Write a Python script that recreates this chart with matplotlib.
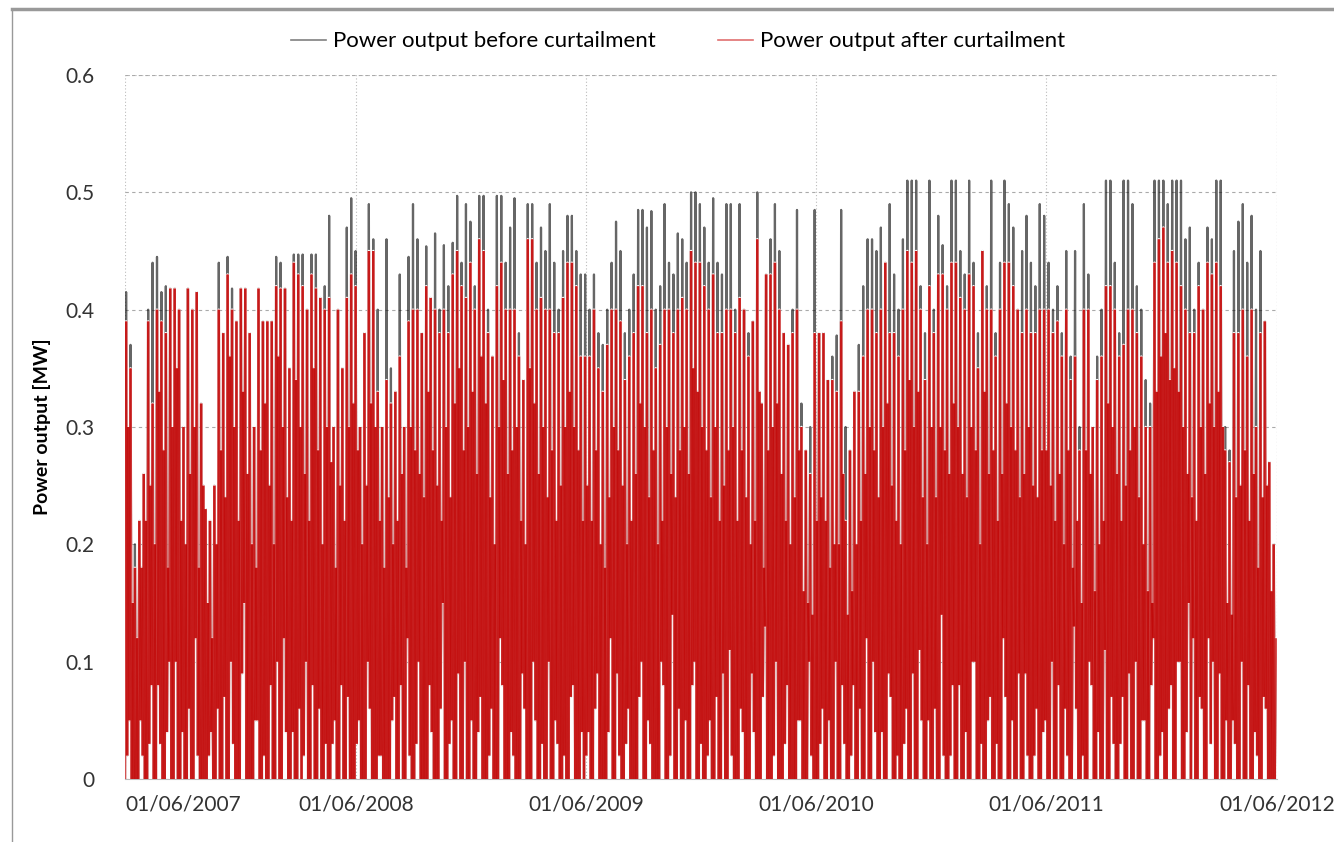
import numpy as np
import pandas as pd
import matplotlib
matplotlib.use('Agg')
import matplotlib.pyplot as plt
import matplotlib.dates as mdates
from matplotlib.lines import Line2D
from matplotlib.collections import LineCollection

# weekly highs, 01/06/2007 .. 01/06/2012
before_peak = [
    .415, .37, .20, .22, .26, .40, .44, .445, .415, .42,
    .418, .418, .40, .30, .418, .40, .415, .32, .23, .22,
    .25, .44, .38, .445, .418, .39, .418, .418, .38, .30,
    .418, .39, .39, .39, .445, .44, .418, .35, .447, .447,
    .447, .40, .447, .447, .41, .42, .48, .30, .40, .35,
    .47, .495,
    .45, .30, .38, .49, .46, .40, .30, .46, .35, .33,
    .43, .30, .445, .49, .46, .38, .454, .41, .465, .40,
    .455, .42, .457, .497, .44, .49, .475, .42, .497, .497,
    .40, .36, .497, .497, .44, .47, .495, .38, .34, .49,
    .49, .44, .47, .45, .49, .44, .40, .45, .48, .48,
    .45, .43,
    .43, .40, .43, .38, .37, .40, .44, .475, .45, .38,
    .40, .43, .485, .485, .47, .484, .40, .42, .49, .44,
    .43, .465, .46, .44, .50, .50, .49, .47, .44, .495,
    .44, .43, .49, .49, .40, .49, .40, .38, .39, .50,
    .32, .43, .46, .49, .45, .38, .37, .40, .485, .32,
    .28, .30, .485,
    .38, .38, .34, .36, .378, .485, .30, .28, .33, .37,
    .42, .46, .46, .45, .47, .44, .49, .43, .40, .46,
    .51, .51, .51, .42, .38, .51, .40, .48, .455, .42,
    .51, .51, .45, .43, .51, .44, .38, .45, .42, .51,
    .38, .44, .51, .49, .47, .40, .45, .48, .44, .42,
    .49,
    .48, .44, .40, .42, .38, .45, .36, .45, .30, .49,
    .43, .30, .36, .40, .51, .51, .44, .38, .51, .51,
    .49, .42, .40, .34, .32, .51, .51, .51, .49, .51,
    .51, .51, .46, .47, .40, .44, .40, .47, .46, .51,
    .51, .30, .28, .45, .475, .49, .44, .48, .40, .45,
    .39, .27, .20,
]

after_peak = [
    .39, .35, .18, .22, .26, .39, .32, .40, .39, .38,
    .418, .418, .40, .30, .418, .40, .415, .32, .23, .22,
    .25, .40, .38, .43, .40, .39, .418, .418, .38, .30,
    .418, .39, .39, .39, .42, .418, .418, .35, .44, .43,
    .42, .40, .43, .418, .41, .40, .41, .30, .40, .35,
    .41, .43,
    .42, .30, .38, .45, .45, .33, .30, .34, .32, .33,
    .36, .30, .39, .40, .40, .38, .42, .41, .40, .38,
    .40, .38, .43, .45, .42, .41, .44, .40, .46, .45,
    .38, .36, .42, .44, .40, .40, .40, .36, .34, .46,
    .46, .40, .41, .40, .40, .38, .38, .41, .44, .44,
    .42, .36,
    .36, .36, .40, .35, .33, .37, .40, .40, .39, .34,
    .36, .38, .42, .42, .38, .40, .35, .37, .40, .40,
    .38, .40, .41, .40, .45, .44, .44, .42, .40, .43,
    .38, .38, .40, .40, .38, .41, .40, .36, .39, .46,
    .32, .43, .43, .44, .40, .38, .37, .38, .40, .30,
    .28, .26, .38,
    .38, .38, .34, .34, .33, .39, .22, .28, .33, .33,
    .36, .40, .40, .38, .40, .44, .38, .38, .36, .40,
    .45, .44, .45, .40, .34, .42, .38, .43, .43, .40,
    .44, .44, .41, .40, .43, .42, .35, .45, .40, .40,
    .36, .40, .44, .44, .42, .40, .38, .40, .38, .38,
    .40,
    .40, .40, .38, .39, .36, .40, .34, .36, .28, .40,
    .40, .30, .34, .36, .42, .42, .40, .36, .37, .40,
    .40, .38, .36, .30, .30, .44, .46, .47, .44, .45,
    .44, .42, .40, .38, .38, .42, .40, .44, .43, .44,
    .42, .28, .27, .38, .38, .40, .36, .40, .30, .38,
    .39, .27, .20,
]

# weekly lows and the smaller mid-week swing (same for both series)
trough = [
    0, .05, 0, 0, .02, 0, .08, 0, .03, 0, .1, 0, 0, .04, 0, 0, .12, 0, 0, .02,
    0, .06, 0, 0, .1, 0, 0, .15, 0, 0, .05, 0, 0, .08, 0, 0, .12, 0, .04, 0,
    0, .1, 0, 0, .06, 0, 0, .03, 0, .08, 0, 0,
    0, .05, 0, .1, 0, 0, .02, 0, 0, .07, 0, 0, .12, 0, .03, 0, 0, .08, 0, 0,
    .15, 0, .05, 0, 0, .1, 0, 0, .04, 0, 0, .06, 0, .12, 0, 0, .02, 0, .09, 0,
    0, .05, 0, 0, .1, 0, .03, 0, 0, .07, 0, 0,
    0, .04, 0, .09, 0, 0, .12, 0, .02, 0, .06, 0, 0, .1, 0, .03, 0, 0, .08, 0,
    .14, 0, 0, .05, 0, .1, 0, 0, .02, 0, .07, 0, 0, .11, 0, 0, .04, 0, .09, 0,
    0, .13, 0, .02, 0, 0, .08, 0, 0, .05, 0, .1, 0,
    0, .06, 0, 0, .1, 0, .03, 0, .08, 0, 0, .12, 0, .04, 0, 0, .09, 0, .02, 0,
    .06, 0, 0, .11, 0, .05, 0, 0, .14, 0, .02, 0, .08, 0, 0, .1, 0, .03, 0, .07,
    0, 0, .12, 0, .05, 0, 0, .09, 0, .02, 0,
    .04, 0, .1, 0, 0, .06, 0, .13, 0, .02, 0, .08, 0, 0, .11, 0, .03, 0, .07, 0,
    0, .1, 0, .05, 0, .12, 0, .04, 0, .08, 0, .1, 0, .15, .12, 0, .06, 0, .03, 0,
    .09, 0, 0, .05, 0, .1, 0, 0, .04, 0, .07, 0, 0,
]

mid_low = [
    .02, 0, 0, .05, 0, .03, 0, .08, 0, .04, 0, .1, 0, 0, .06, 0, .02, 0, 0, .04,
    0, 0, .07, 0, .03, 0, .09, 0, 0, .05, 0, .02, 0, 0, .1, 0, .04, 0, 0, .06,
    .02, 0, .08, 0, 0, .03, 0, .05, 0, 0, .07, 0,
    .03, 0, 0, .06, 0, .02, 0, 0, .05, 0, .08, 0, .02, 0, .1, 0, 0, .04, 0, .06,
    0, .03, 0, .09, 0, 0, .05, 0, .07, 0, .02, 0, 0, .08, 0, .04, 0, 0, .06, 0,
    .1, 0, .03, 0, 0, .05, 0, .02, 0, .08, 0, .04,
    .02, 0, .06, 0, 0, .04, 0, .09, 0, .03, 0, 0, .07, 0, .05, 0, 0, .1, 0, .02,
    0, .06, 0, 0, .08, 0, .03, 0, .05, 0, 0, .09, 0, .02, 0, .06, 0, 0, .04, 0,
    .07, 0, 0, .1, 0, .03, 0, 0, .05, 0, 0, .02, 0,
    .03, 0, .05, 0, 0, .08, 0, .02, 0, .06, 0, 0, .1, 0, .04, 0, .07, 0, 0, .03,
    0, .09, 0, .05, 0, 0, .06, 0, .02, 0, .08, 0, 0, .04, 0, .1, 0, 0, .05, 0,
    .03, 0, .07, 0, 0, .09, 0, .02, 0, .06, 0,
    .05, 0, 0, .08, 0, .02, 0, .06, 0, 0, .1, 0, .04, 0, 0, .07, 0, .03, 0, .09,
    0, 0, .05, 0, .08, 0, .02, 0, .06, 0, .1, 0, .04, 0, 0, .07, 0, .12, .1, 0,
    0, .05, 0, .03, 0, 0, .08, 0, .02, 0, .06, 0, 0,
]

mid_high = [
    .30, .15, .12, .18, .22, .25, .20, .33, .28, .18, .30, .35, .22, .20, .26, .30, .18, .25, .15, .12,
    .20, .28, .24, .36, .30, .22, .33, .26, .20, .18, .28, .32, .25, .20, .36, .30, .24, .22, .34, .30,
    .26, .22, .35, .28, .20, .30, .27, .18, .25, .22, .30, .32,
    .28, .20, .25, .32, .30, .22, .18, .24, .20, .22, .26, .18, .30, .28, .26, .24, .33, .28, .25, .22,
    .30, .24, .32, .35, .28, .30, .33, .26, .36, .32, .24, .20, .30, .34, .26, .28, .30, .22, .20, .35,
    .32, .26, .30, .24, .28, .22, .25, .30, .33, .30, .28, .22,
    .25, .22, .28, .20, .18, .24, .30, .28, .25, .20, .22, .26, .32, .30, .24, .28, .20, .22, .30, .26,
    .24, .28, .30, .26, .35, .33, .30, .28, .24, .30, .22, .25, .28, .30, .22, .28, .24, .20, .22, .33,
    .18, .28, .30, .32, .26, .22, .20, .24, .28, .16, .15, .14, .22,
    .24, .22, .18, .20, .20, .26, .14, .16, .20, .22, .26, .30, .28, .24, .30, .32, .25, .22, .20, .28,
    .34, .30, .33, .24, .20, .30, .24, .30, .28, .26, .32, .30, .26, .24, .30, .28, .20, .33, .26, .28,
    .22, .26, .32, .30, .28, .24, .26, .30, .25, .24, .28,
    .28, .25, .22, .26, .20, .28, .18, .22, .15, .28, .26, .16, .20, .22, .32, .30, .26, .22, .25, .28,
    .30, .24, .20, .16, .15, .33, .36, .38, .34, .35, .33, .30, .26, .24, .22, .30, .26, .32, .30, .33,
    .30, .15, .14, .24, .25, .28, .22, .26, .18, .24, .25, .16, .12,
]

year_ticks = ['2007-06-01', '2008-06-01', '2009-06-01', '2010-06-01', '2011-06-01', '2012-06-01']

weeks = pd.date_range('2007-06-01', periods=len(trough), freq='7D')
step = pd.Timedelta(hours=42)
t = pd.to_datetime(np.column_stack([weeks, weeks + step, weeks + 2*step, weeks + 3*step]).ravel())
before = np.column_stack([trough, before_peak, mid_low, mid_high]).ravel()
after = np.column_stack([trough, after_peak, mid_low, mid_high]).ravel()

plt.rcParams['font.family'] = ['Lato', 'DejaVu Sans']

fig = plt.figure(figsize=(13.34, 8.42), dpi=100)
ax = fig.add_axes([125/1334, 1-779/842, (1277-125)/1334, (779-75)/842])

tn = mdates.date2num(t)
ax.plot(tn, before, color='black', lw=1.6, alpha=0.6, zorder=2)
# blank out the black where the red trace lies on top of it
ax.plot(tn, after, color='white', lw=1.8, zorder=3)
pts = np.column_stack([tn, after])
segs = np.stack([pts[:-1], pts[1:]], axis=1)
ax.add_collection(LineCollection(segs, colors='#c00000', linewidths=1.8, alpha=0.68, zorder=4))

ax.set_ylim(0, 0.6)
ax.set_yticks(np.arange(0, 0.61, 0.1))
ax.set_yticklabels(['0', '0.1', '0.2', '0.3', '0.4', '0.5', '0.6'])
ticks = pd.to_datetime(year_ticks)
ax.set_xlim(ticks[0], ticks[-1])
ax.set_xticks(ticks)
ax.set_xticklabels([d.strftime('%d/%m/%Y') for d in ticks])
ax.get_xticklabels()[0].set_horizontalalignment('left')
ax.tick_params(length=0, labelsize=15, colors='#333333')
ax.tick_params(axis='x', pad=11)
ax.tick_params(axis='y', pad=22)

ax.grid(axis='y', color='#aaaaaa', ls=(0, (3, 3)), lw=0.8)
ax.grid(axis='x', color='#bbbbbb', ls=(0, (1, 2)), lw=0.8)
ax.set_axisbelow(True)
for s in ['top', 'right', 'left']:
    ax.spines[s].set_visible(False)
ax.spines['bottom'].set_color('#bbbbbb')
ax.axvline(ticks[-1], color='#bbbbbb', ls=(0, (1, 2)), lw=0.8, zorder=0)
ax.axhline(0.6, color='#bbbbbb', ls=(0, (1, 2)), lw=0.8, zorder=0)

ax.set_ylabel('Power output [MW]', fontsize=14, fontweight='bold', labelpad=10)

handles = [Line2D([], [], color='#808080', lw=1.2), Line2D([], [], color='#e07070', lw=1.2)]
ax.legend(handles, ['Power output before curtailment', 'Power output after curtailment'],
          loc='lower center', bbox_to_anchor=(0.48, 1.005), ncol=2, frameon=False,
          fontsize=16, handlelength=1.6, columnspacing=2.8, handletextpad=0.3)

# outer chart border
fig.add_artist(Line2D([12/1334, 1], [1-9/842, 1-9/842], color='#999999', lw=2.5))
fig.add_artist(Line2D([12/1334, 12/1334], [0, 1-9/842], color='#999999', lw=1))

fig.savefig('out.png', dpi=100)
